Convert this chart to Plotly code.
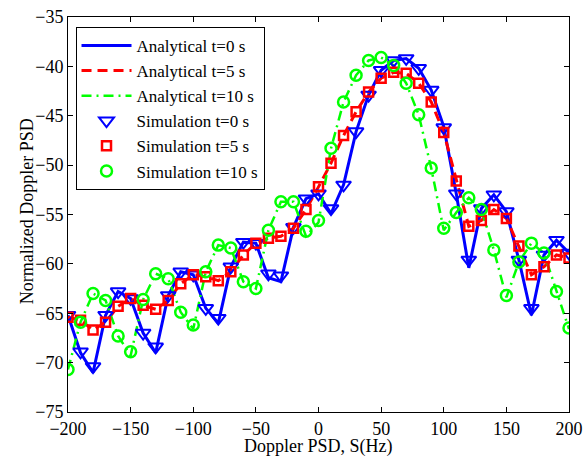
import plotly.graph_objects as go

freq = list(range(-200, 201, 10))

# Analytical curves (line vertices)
ana_t0 = [-65.2, -69.0, -71.0, -65.2, -62.8, -63.5, -67.0, -69.0, -63.2, -60.8,
          -61.1, -64.5, -66.0, -60.3, -57.8, -57.9, -61.4, -61.8, -56.3, -53.4,
          -52.9, -54.9, -52.0, -46.6, -42.9, -40.4, -39.4, -39.2, -40.2, -42.4,
          -46.1, -52.9, -60.4, -54.4, -53.0, -54.7, -59.6, -65.2, -59.1, -57.6, -58.9]
ana_t5 = [-65.4, -65.7, -66.7, -65.9, -64.3, -63.5, -64.2, -64.6, -63.7, -62.0,
          -61.1, -61.3, -61.7, -60.8, -59.1, -57.9, -57.4, -57.2, -56.4, -54.5,
          -52.2, -49.8, -47.0, -44.6, -42.6, -41.2, -40.6, -40.7, -41.7, -43.6,
          -46.7, -51.6, -56.2, -55.6, -54.5, -55.4, -58.2, -61.1, -60.3, -59.1, -59.4]
ana_t10 = [-70.7, -65.9, -63.0, -63.7, -67.3, -69.3, -63.6, -61.0, -61.5, -64.9,
           -66.6, -60.8, -58.1, -58.4, -61.8, -62.5, -56.6, -53.7, -53.7, -57.2,
           -55.8, -48.3, -43.6, -40.9, -39.4, -39.1, -39.9, -41.7, -44.9, -50.3,
           -56.6, -54.8, -53.3, -54.5, -58.6, -63.4, -59.8, -57.9, -58.9, -62.8, -66.6]

# Simulation markers
sim_t0 = [-65.2, -68.9, -70.4, -65.2, -62.8, -63.5, -67.0, -68.4, -63.2, -60.8,
          -61.1, -64.5, -65.5, -60.3, -57.8, -57.9, -61.0, -61.2, -56.3, -53.4,
          -52.9, -54.4, -52.0, -46.6, -42.9, -40.4, -39.4, -39.2, -40.2, -42.4,
          -46.2, -52.9, -59.6, -54.4, -53.0, -54.7, -59.6, -64.5, -59.1, -57.6, -58.9]
sim_t5 = [-65.4, -65.7, -66.7, -65.9, -64.3, -63.5, -64.2, -64.6, -63.7, -62.0,
          -61.1, -61.3, -61.7, -60.8, -59.1, -57.9, -57.4, -57.2, -56.4, -54.5,
          -52.2, -49.8, -47.0, -44.6, -42.6, -41.2, -40.6, -40.7, -41.7, -43.6,
          -46.7, -51.6, -56.2, -55.6, -54.5, -55.4, -58.2, -61.1, -60.3, -59.1, -59.4]
sim_t10 = [-70.7, -65.9, -63.0, -63.7, -67.3, -68.9, -63.6, -61.0, -61.5, -64.9,
           -66.2, -60.8, -58.1, -58.4, -61.8, -62.5, -56.6, -53.7, -53.7, -56.7,
           -55.6, -48.3, -43.6, -40.9, -39.4, -39.1, -39.9, -41.7, -44.9, -50.3,
           -56.4, -54.8, -53.3, -54.5, -58.6, -63.2, -59.8, -57.9, -58.9, -62.8, -66.5]

x_title = "Doppler PSD, S(Hz)"
y_title = "Normalized Doppler PSD"

BLUE, RED, GREEN = "#0000ff", "#ff0000", "#00ff00"
FONT = "Liberation Serif, Times New Roman, serif"

fig = go.Figure()
fig.add_trace(go.Scatter(x=freq, y=ana_t0, mode="lines", name="Analytical t=0 s",
                         line=dict(color=BLUE, width=3)))
fig.add_trace(go.Scatter(x=freq, y=ana_t5, mode="lines", name="Analytical t=5 s",
                         line=dict(color=RED, width=3, dash="10px,6px")))
fig.add_trace(go.Scatter(x=freq, y=ana_t10, mode="lines", name="Analytical t=10 s",
                         line=dict(color=GREEN, width=2.5, dash="10px,5px,2px,5px")))
fig.add_trace(go.Scatter(x=freq, y=sim_t0, mode="markers", name="Simulation t=0 s",
                         marker=dict(symbol="triangle-down-open", size=13, color=BLUE,
                                     line=dict(width=2, color=BLUE))))
fig.add_trace(go.Scatter(x=freq, y=sim_t5, mode="markers", name="Simulation t=5 s",
                         marker=dict(symbol="square-open", size=9, color=RED,
                                     line=dict(width=2.5, color=RED))))
fig.add_trace(go.Scatter(x=freq, y=sim_t10, mode="markers", name="Simulation t=10 s",
                         marker=dict(symbol="circle-open", size=11, color=GREEN,
                                     line=dict(width=2.5, color=GREEN))))

axis_common = dict(showgrid=False, zeroline=False, showline=True, linecolor="black",
                   linewidth=1, mirror="ticks", ticks="inside", ticklen=5,
                   tickcolor="black", tickwidth=1, automargin=False,
                   tickfont=dict(family=FONT, size=18, color="black"))

fig.update_layout(
    width=585, height=458,
    margin=dict(l=67.5, r=16, t=17, b=46),
    paper_bgcolor="white", plot_bgcolor="white",
    font=dict(family=FONT, size=18, color="black"),
    xaxis=dict(range=[-200, 200], dtick=50, **axis_common),
    yaxis=dict(range=[-75, -35], dtick=5, **axis_common),
    legend=dict(x=0.015, y=0.975, xanchor="left", yanchor="top",
                bgcolor="white", bordercolor="black", borderwidth=1,
                font=dict(family=FONT, size=17, color="black"),
                itemwidth=50, tracegroupgap=0),
    showlegend=True,
    annotations=[
        dict(text=x_title, xref="paper", yref="paper", x=0.5, y=-0.088,
             xanchor="center", yanchor="middle", showarrow=False,
             font=dict(family=FONT, size=18, color="black")),
        dict(text=y_title, xref="paper", yref="paper", x=-0.082, y=0.508,
             xanchor="center", yanchor="middle", showarrow=False, textangle=-90,
             font=dict(family=FONT, size=18, color="black")),
    ],
)

fig.write_html("out.html", config={"displayModeBar": False},
               post_script="document.body.style.margin='0px';")
